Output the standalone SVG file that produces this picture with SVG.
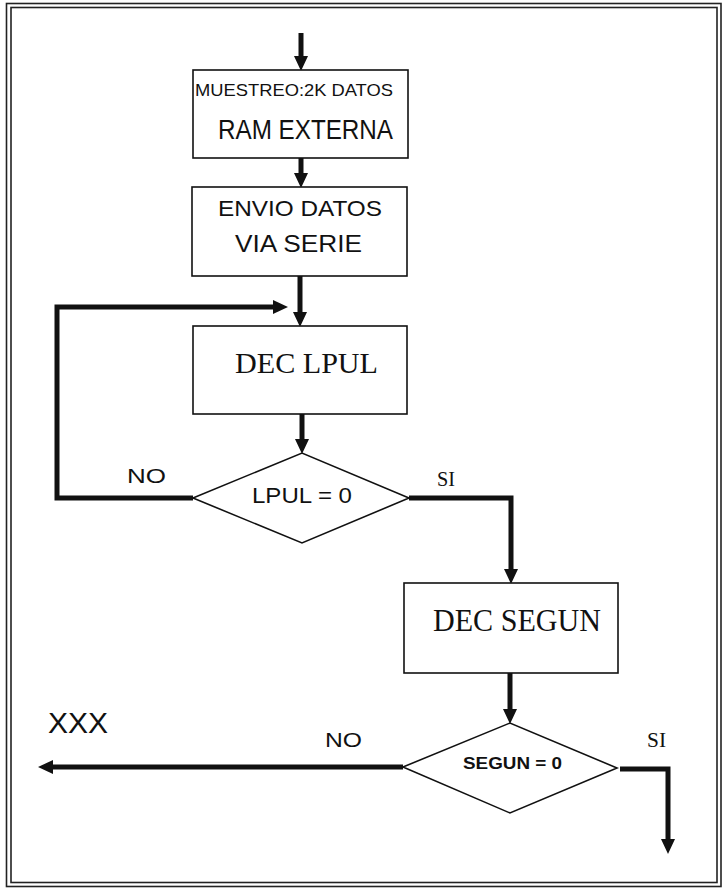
<svg xmlns="http://www.w3.org/2000/svg" width="725" height="889" viewBox="0 0 725 889">
<style>
.box{fill:#fff;stroke:#111;stroke-width:1.6}
.frame{fill:none;stroke:#222;stroke-width:1.6}
.con{fill:none;stroke:#111;stroke-width:5;stroke-linejoin:miter}
.s{font-family:"Liberation Sans",Arial,sans-serif;fill:#111}
.r{font-family:"Liberation Serif","Times New Roman",serif;fill:#111}
</style>
<defs>
<marker id="ah" markerUnits="userSpaceOnUse" markerWidth="16" markerHeight="16" viewBox="0 0 16 16" refX="4" refY="8" orient="auto">
<path d="M0,1 L15,8 L0,15 Z" fill="#111"/>
</marker>
</defs>
<rect width="725" height="889" fill="#fff"/>
<g id="frame">
<rect class="frame" x="6.5" y="3.5" width="714.5" height="883"/>
<rect class="frame" x="11" y="7.5" width="706" height="875"/>
</g>
<g id="connectors">
<path class="con" d="M301,33 V60" marker-end="url(#ah)"/>
<path class="con" d="M301,158 V177" marker-end="url(#ah)"/>
<path class="con" d="M300,276 V316" marker-end="url(#ah)"/>
<path class="con" d="M193,498 H57 V307 H277" marker-end="url(#ah)"/>
<path class="con" d="M302,414 V443" marker-end="url(#ah)"/>
<path class="con" d="M409,498 H511 V573" marker-end="url(#ah)"/>
<path class="con" d="M510,673 V713" marker-end="url(#ah)"/>
<path class="con" d="M403,767 H49" marker-end="url(#ah)"/>
<path class="con" d="M620,769 H668 V843" marker-end="url(#ah)"/>
</g>
<g id="n1">
<rect class="box" x="193" y="70" width="215" height="88"/>
<text class="s" x="195" y="96" font-size="16.5" textLength="198" lengthAdjust="spacingAndGlyphs">MUESTREO:2K DATOS</text>
<text class="s" x="218" y="139" font-size="27" textLength="175" lengthAdjust="spacingAndGlyphs">RAM EXTERNA</text>
</g>
<g id="n2">
<rect class="box" x="192" y="187" width="215" height="89"/>
<text class="s" x="218" y="216" font-size="22" textLength="164" lengthAdjust="spacingAndGlyphs">ENVIO DATOS</text>
<text class="s" x="235" y="252" font-size="23" textLength="127" lengthAdjust="spacingAndGlyphs">VIA SERIE</text>
</g>
<g id="n3">
<rect class="box" x="193" y="326" width="214" height="88"/>
<text class="r" x="235" y="373" font-size="30" textLength="143" lengthAdjust="spacingAndGlyphs">DEC LPUL</text>
</g>
<g id="d1">
<polygon class="box" points="193,498 302,453 409,498 302,543"/>
<text class="s" x="252" y="503" font-size="22" textLength="100" lengthAdjust="spacingAndGlyphs">LPUL = 0</text>
</g>
<g id="n4">
<rect class="box" x="404" y="583" width="214" height="90"/>
<text class="r" x="433" y="631" font-size="31" textLength="168" lengthAdjust="spacingAndGlyphs">DEC SEGUN</text>
</g>
<g id="d2">
<polygon class="box" points="403,767 510,723 617,768 510,813"/>
<text class="s" x="463" y="769" font-size="17" font-weight="bold" textLength="99" lengthAdjust="spacingAndGlyphs">SEGUN = 0</text>
</g>
<g id="labels">
<text class="s" x="127" y="483" font-size="20" textLength="39" lengthAdjust="spacingAndGlyphs">NO</text>
<text class="r" x="437" y="486" font-size="21" textLength="18" lengthAdjust="spacingAndGlyphs">SI</text>
<text class="s" x="325" y="747" font-size="20" textLength="37" lengthAdjust="spacingAndGlyphs">NO</text>
<text class="r" x="647" y="747" font-size="22" textLength="19" lengthAdjust="spacingAndGlyphs">SI</text>
<text class="s" x="48" y="733" font-size="29" textLength="60" lengthAdjust="spacingAndGlyphs">XXX</text>
</g>
</svg>
